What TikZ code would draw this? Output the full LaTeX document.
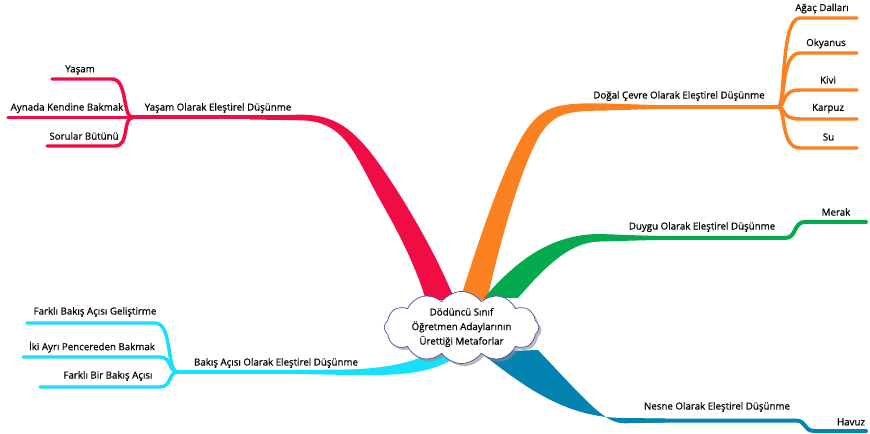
\documentclass[tikz,border=0pt]{standalone}
\usepackage{fontspec}
\setmainfont{Open Sans}[FakeBold=0.6]
\usetikzlibrary{shapes.symbols,shadows}
\definecolor{cred}{RGB}{240,12,68}
\definecolor{corange}{RGB}{250,128,32}
\definecolor{cgreen}{RGB}{4,170,78}
\definecolor{ccyan}{RGB}{24,224,250}
\definecolor{cblue}{RGB}{4,130,176}
\definecolor{cloudline}{RGB}{72,72,150}
\begin{document}
\begin{tikzpicture}[x=0.75pt,y=-0.75pt,
  lbl/.style={font=\fontsize{7.3}{9}\selectfont, inner sep=0pt, anchor=center},
  mainline/.style={line width=3pt, line cap=round},
  subline/.style={line width=2.6pt, line cap=round}]
\useasboundingbox (0,0) rectangle (870,434);

% ---------- coordinates ----------
\coordinate (rJ) at (133,117.5);
\coordinate (rM) at (280,117.5);
\coordinate (rA) at (8,117.5);
\coordinate (rY) at (52,79);
\coordinate (rS) at (47,146);

\coordinate (oJ) at (778,107);
\coordinate (oM) at (630,107);
\coordinate (o1) at (857,18);
\coordinate (o2) at (857,53);
\coordinate (o3) at (857,90);
\coordinate (o4) at (857,119);
\coordinate (o5) at (857,148);

\coordinate (gM) at (640,238);
\coordinate (gE) at (866,222);

\coordinate (bM) at (650,420.5);
\coordinate (bE) at (866,431);

\coordinate (cJ) at (178,372);
\coordinate (cM) at (310,372);
\coordinate (c1) at (27,323);
\coordinate (c2) at (23,357);
\coordinate (c3) at (40,387);

% ---------- red branch ----------
\fill[cred] (250,115.5) -- (300,114.7) .. controls (345,114) and (365,140) .. (403,200)
  .. controls (425,236) and (440,265) .. (455,300) -- (426,300)
  .. controls (415,265) and (400,235) .. (380,200)
  .. controls (355,155) and (345,120.3) .. (300,120.3) -- (250,119.5) -- cycle;
\draw[cred,mainline] (rJ) -- (rM);
\draw[cred,subline] (rA) -- (rJ);
\draw[cred,subline] (rY) -- (112,79) .. controls (128,79) and (122,117.5) .. (rJ);
\draw[cred,subline] (rS) -- (115,146) .. controls (130,146) and (122,117.5) .. (rJ);

% ---------- orange branch ----------
\fill[corange] (655,105) -- (600,103.3) .. controls (560,103) and (545,106) .. (530,125)
  .. controls (510,150) and (485,220) .. (460,300) -- (487,300)
  .. controls (505,220) and (525,160) .. (540,135)
  .. controls (553,115) and (565,110.7) .. (600,110.7) -- (655,109) -- cycle;
\draw[corange,mainline] (oM) -- (oJ);
\draw[corange,subline] (oJ) .. controls (786,107) and (780,18) .. (800,18) -- (o1);
\draw[corange,subline] (oJ) .. controls (786,107) and (780,53) .. (800,53) -- (o2);
\draw[corange,subline] (oJ) .. controls (786,107) and (780,90) .. (800,90) -- (o3);
\draw[corange,subline] (oJ) .. controls (786,107) and (780,119) .. (800,119) -- (o4);
\draw[corange,subline] (oJ) .. controls (786,107) and (780,148) .. (800,148) -- (o5);

% ---------- green branch ----------
\fill[cgreen] (484,298) .. controls (515,262) and (550,234) .. (600,234)
  -- (655,236) -- (655,240) -- (600,241.5)
  .. controls (575,242.5) and (555,255) .. (518,298) -- cycle;
\draw[cgreen,mainline] (gM) -- (785,238) .. controls (797,238) and (793,222) .. (805,222) -- (gE);

% ---------- blue branch ----------
\fill[cblue] (480,352) .. controls (530,392) and (570,418) .. (625,418)
  -- (665,418.5) -- (665,422.5) -- (625,423.3)
  .. controls (605,423.3) and (590,405) .. (538,350) -- cycle;
\draw[cblue,mainline] (bM) -- (795,420.5) .. controls (808,420.5) and (802,431) .. (815,431) -- (bE);

% ---------- cyan branch ----------
\fill[ccyan] (295,370) -- (330,369.7) .. controls (380,369.7) and (412,365) .. (445,346)
  -- (452,360) .. controls (425,374) and (400,376.5) .. (330,374.6) -- (295,374) -- cycle;
\draw[ccyan,mainline] (cJ) -- (cM);
\draw[ccyan,subline] (c1) -- (155,323) .. controls (173,323) and (166,372) .. (cJ);
\draw[ccyan,subline] (c2) -- (160,357) .. controls (172,357) and (168,372) .. (cJ);
\draw[ccyan,subline] (c3) -- (160,387) .. controls (172,387) and (168,372) .. (cJ);

% ---------- center cloud ----------
\node[cloud, cloud puffs=12, cloud puff arc=110, cloud ignores aspect,
  minimum width=116pt, minimum height=52pt, inner sep=0pt,
  draw=cloudline, line width=0.5pt, fill=white,
  drop shadow={shadow xshift=2pt, shadow yshift=-2pt, fill=black!45, opacity=0.6},
  align=center, font=\fontsize{7.3}{10.9}\selectfont] (center) at (461.5,327.5)
  {Dödüncü Sınıf\\Öğretmen Adaylarının\\Ürettiği Metaforlar};

% ---------- labels ----------
\node[lbl] (tY) at (218,108) {Yaşam Olarak Eleştirel Düşünme};
\node[lbl] (tY1) at (80,70) {Yaşam};
\node[lbl] (tY2) at (67,108) {Aynada Kendine Bakmak};
\node[lbl] (tY3) at (84,136) {Sorular Bütünü};

\node[lbl] (tO) at (679,96) {Doğal Çevre Olarak Eleştirel Düşünme};
\node[lbl] (tO1) at (822,8.5) {Ağaç Dalları};
\node[lbl] (tO2) at (826,43.5) {Okyanus};
\node[lbl] (tO3) at (828,80) {Kivi};
\node[lbl] (tO4) at (828,108.5) {Karpuz};
\node[lbl] (tO5) at (828.5,137) {Su};

\node[lbl] (tG) at (702,227) {Duygu Olarak Eleştirel Düşünme};
\node[lbl] (tG1) at (836,212) {Merak};

\node[lbl] (tB) at (717,407) {Nesne Olarak Eleştirel Düşünme};
\node[lbl] (tB1) at (851,422) {Havuz};

\node[lbl] (tC) at (276,363) {Bakış Açısı Olarak Eleştirel Düşünme};
\node[lbl] (tC1) at (95,312) {Farklı Bakış Açısı Geliştirme};
\node[lbl] (tC2) at (92,347) {İki Ayrı Pencereden Bakmak};
\node[lbl] (tC3) at (108,376) {Farklı Bir Bakış Açısı};
\end{tikzpicture}
\end{document}
